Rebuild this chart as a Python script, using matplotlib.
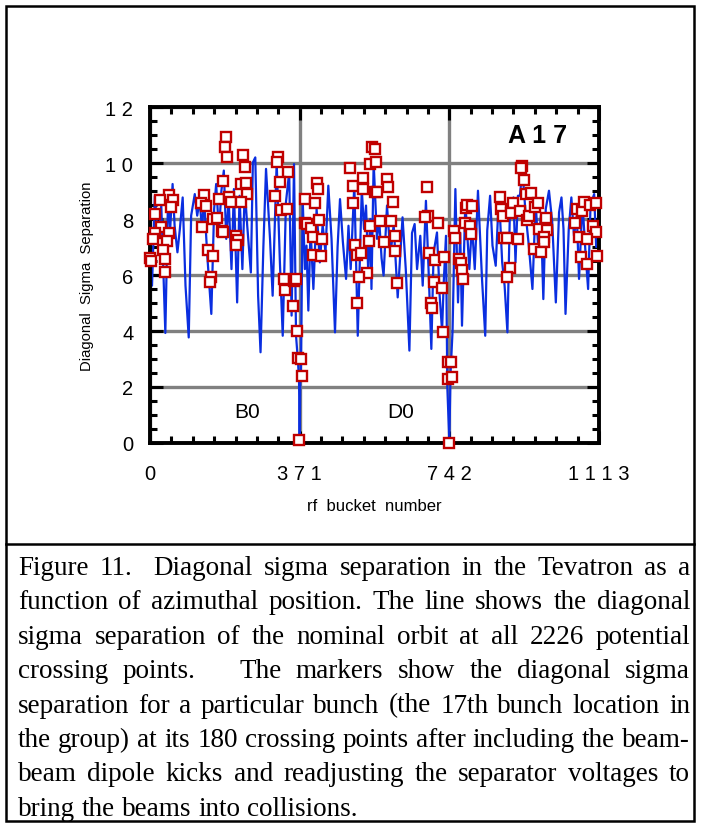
import matplotlib
matplotlib.use("Agg")
import matplotlib.pyplot as plt
from matplotlib.ticker import MultipleLocator, FixedLocator
from matplotlib.patches import Rectangle
from matplotlib.lines import Line2D

plt.rcParams["font.family"] = ["Liberation Sans", "DejaVu Sans"]

# nominal orbit: rf bucket vs diagonal sigma separation
orbit_bucket = [
    0, 5, 12, 20, 28, 38, 45, 50, 56, 61, 68, 74, 81, 88, 96, 102, 111, 117,
    123, 129, 134, 142, 152, 159, 164, 171, 177, 183, 189, 195, 202, 208, 216,
    222, 229, 235, 241, 250, 255, 261, 268, 274, 281, 287.6, 297.5, 304, 314,
    322, 329, 337, 345, 351, 357, 362, 367, 369.5, 371, 372.5, 374, 378.5, 384,
    388, 392.5, 398, 405, 413, 421, 428, 435, 442, 450, 458.6, 465, 471, 478,
    486, 492, 497.5, 506.5, 515, 525, 530.5, 535.5, 541, 546, 549, 554.4,
    562.7, 568, 574, 579, 587.5, 596, 604, 614, 626, 634, 643, 649.5, 656, 662,
    670, 676, 684, 691, 697.4, 703, 711.4, 718, 724, 728, 733.7, 737, 742, 745,
    750, 757, 763.5, 769, 773.4, 781.7, 791.6, 798, 805, 813, 823, 831, 836,
    843, 849, 857, 865, 873, 879, 886, 892, 901, 906, 912, 917, 923, 931, 939,
    948, 956, 962, 969, 975, 981, 989, 997, 1006, 1014, 1020, 1025, 1030, 1038,
    1044.5, 1051, 1058, 1063.5, 1072, 1080, 1086, 1092, 1101, 1106, 1113,
]
orbit_sep = [
    6.6, 5.62, 8.83, 7.29, 8.48, 3.93, 8.95, 7.64, 9.25, 7.76, 6.81, 7.64, 8.77,
    5.62, 3.77, 8.12, 8.89, 8.12, 8.65, 7.64, 8.71, 6.69, 4.61, 8.36, 9.25,
    7.52, 9.01, 9.73, 7.29, 8.71, 6.21, 9.07, 5.02, 8.83, 6.21, 9.07, 7.76,
    6.09, 10.02, 10.2, 5.26, 3.24, 7.0, 9.79, 7.29, 5.26, 10.02, 6.45, 3.83,
    8.6, 9.67, 4.55, 9.96, 3.83, 2.88, 2.17, 0.1, 2.2, 2.4, 8.71, 6.21, 7.05,
    4.73, 7.64, 5.5, 8.36, 6.45, 7.8, 6.8, 9.19, 7.29, 3.95, 7.0, 8.71, 7.2,
    5.86, 7.76, 6.21, 9.25, 3.83, 9.07, 7.64, 8.48, 6.09, 8.0, 5.5, 10.02,
    7.29, 8.0, 6.6, 5.98, 8.48, 6.7, 7.8, 5.2, 8.06, 6.21, 3.3, 7.5, 7.82,
    6.21, 7.4, 5.62, 8.65, 6.0, 3.36, 6.8, 7.52, 5.26, 4.0, 5.7, 7.4, 2.0,
    0.05, 2.5, 4.0, 9.07, 5.02, 7.5, 4.19, 8.6, 6.21, 7.8, 6.21, 9.01, 5.86,
    3.83, 7.6, 8.83, 7.05, 6.33, 8.89, 6.45, 5.62, 3.95, 8.2, 8.77, 6.45, 8.83,
    8.83, 9.79, 8.2, 7.05, 5.5, 8.6, 7.05, 8.12, 5.14, 8.36, 9.01, 7.9, 5.02,
    8.24, 8.77, 7.64, 4.61, 7.64, 8.77, 7.4, 8.12, 5.86, 8.6, 6.69, 5.5, 8.5,
    8.89, 7.0, 8.3,
]

# bunch 17 crossing points
bunch_bucket = [
    189, 185, 192, 231, 235, 181, 226, 239, 241, 46, 26, 57, 53, 133, 127, 140,
    172, 195, 200, 225, 12, 28, 13, 46, 7, 43, 156, 166, 130, 178, 182, 212,
    218, 214, 32, 145, 155, 36, 1, 3, 38, 150, 148,
    318, 316, 343, 322, 310, 324, 339, 331, 335, 357, 361, 354, 364, 366, 374,
    377, 370, 383, 383, 390, 398, 403, 415, 417, 410, 420, 427, 405, 423, 496,
    502, 529, 527, 504, 545, 549.5, 558, 545, 544, 508, 512, 522, 539, 518, 514,
    558.6, 560, 562.7, 587.5, 590, 601.5, 686.6, 571, 598, 581, 606.5, 608, 612,
    689, 681, 714, 692, 707, 730, 704, 724, 697, 699, 726, 739, 746, 738, 748.6,
    742, 752.7, 757, 767, 772, 773, 776, 783, 786, 798, 782, 792, 796,
    923, 919, 927, 931, 944, 868, 869, 875, 901, 896, 917, 935, 940, 954, 962,
    981, 964, 983, 977, 977, 878, 884, 911, 952, 970, 892.5, 886, 1053, 1058,
    1072, 1076, 1091, 1105, 1097, 1105, 1063.5, 1082.5, 1068, 1084, 1109,
]
bunch_sep = [
    10.92, 10.56, 10.2, 10.29, 9.84, 9.34, 9.25, 9.29, 8.89, 8.87, 8.68, 8.68,
    8.42, 8.87, 8.57, 8.45, 8.71, 8.77, 8.62, 8.62, 8.18, 7.70, 7.49, 7.49,
    7.29, 7.20, 8.0, 8.02, 7.70, 7.58, 7.52, 7.38, 7.26, 7.07, 6.90, 6.90, 6.67,
    6.57, 6.6, 6.5, 6.12, 5.92, 5.74,
    10.2, 10.02, 9.67, 9.31, 8.83, 8.33, 8.36, 5.86, 5.48, 5.8, 5.86, 4.9, 3.99,
    3.02, 3.0, 2.40, 0.12, 8.71, 7.85, 7.82, 7.68, 7.35, 9.28, 9.07, 8.57, 7.96,
    7.29, 6.71, 6.69, 9.81, 9.17, 9.45, 9.07, 8.56, 9.96, 10.56, 8.95, 7.74,
    7.2, 7.07, 6.71, 6.77, 6.07, 5.92, 5.0,
    10.5, 10.02, 8.98, 9.43, 9.13, 8.62, 9.13, 7.94, 7.92, 7.19, 7.40, 6.85,
    5.71, 8.1, 8.06, 7.85, 6.78, 6.53, 6.63, 5.74, 5.52, 5.0, 4.82, 3.98, 2.88,
    2.88, 2.29, 2.35, 0.0, 7.58, 7.31, 6.57, 6.42, 6.19, 5.86, 8.39, 8.5, 8.45,
    7.85, 7.76, 7.46,
    9.9, 9.81, 9.4, 8.89, 8.93, 8.77, 8.36, 8.12, 8.57, 8.2, 8.3, 7.98, 8.12,
    8.42, 8.57, 8.02, 7.64, 7.62, 7.35, 7.17, 7.32, 7.31, 7.29, 6.93, 6.81,
    6.24, 5.92, 7.86, 8.36, 8.3, 8.62, 8.5, 8.57, 7.76, 7.52, 7.35, 7.29, 6.63,
    6.39, 6.67,
]

x_ticks = [0, 371, 742, 1113]
x_tick_labels = ["0", "3 7 1", "7 4 2", "1 1 1 3"]
y_ticks = [0, 2, 4, 6, 8, 10, 12]
y_tick_labels = ["0", "2", "4", "6", "8", "1 0", "1 2"]

caption_lines = [
    "Figure 11.  Diagonal sigma separation in the Tevatron as a",
    "function of azimuthal position. The line shows the diagonal",
    "sigma separation of the nominal orbit at all 2226 potential",
    "crossing points.   The markers show the diagonal sigma",
    "separation for a particular bunch (the 17th bunch location in",
    "the group) at its 180 crossing points after including the beam-",
    "beam dipole kicks and readjusting the separator voltages to",
    "bring the beams into collisions.",
]

W, H = 702, 829
fig = plt.figure(figsize=(W / 100, H / 100), dpi=100)
ax = fig.add_axes([150 / W, 1 - 444 / H, 449 / W, 336 / H])

ax.plot(orbit_bucket, orbit_sep, color="#0a2ee0", lw=1.6, zorder=2)
ax.plot(bunch_bucket, bunch_sep, ls="none", marker="s", ms=7, mfc="white",
        mec="#c00000", mew=1.7, zorder=3, clip_on=False)

ax.set_xlim(0, 1113)
ax.set_ylim(0, 12)
ax.xaxis.set_major_locator(FixedLocator(x_ticks))
ax.set_xticklabels(x_tick_labels)
ax.yaxis.set_major_locator(FixedLocator(y_ticks))
ax.set_yticklabels(y_tick_labels)
ax.xaxis.set_minor_locator(MultipleLocator(53))
ax.yaxis.set_minor_locator(MultipleLocator(0.5))
ax.tick_params(which="both", direction="in", top=True, right=True,
               colors="black", labelsize=14.5)
ax.tick_params(which="major", length=9, width=2.2)
ax.tick_params(which="minor", length=5, width=2.2)
ax.tick_params(axis="x", pad=15)
ax.tick_params(axis="y", pad=12)
for s in ax.spines.values():
    s.set_linewidth(2.8)
ax.grid(True, which="major", color="#808080", lw=2.4)
ax.set_axisbelow(True)

ax.set_ylabel("Diagonal  Sigma  Separation", fontsize=10.7, labelpad=8)
ax.set_xlabel("rf  bucket  number", fontsize=12, labelpad=11)

ax.text(0.929, 0.917, "A 1 7", transform=ax.transAxes, ha="right",
        va="center", fontsize=18, fontweight="bold")
ax.text(240, 1.14, "B0", ha="center", va="center", fontsize=15)
ax.text(622, 1.14, "D0", ha="center", va="center", fontsize=15)

# outer frame and caption box
fig.add_artist(Rectangle((6 / W, 1 - 822 / H), 688 / W, 815 / H,
                         transform=fig.transFigure, fill=False, lw=1.8,
                         color="black"))
fig.add_artist(Line2D([6 / W, 694 / W], [1 - 545 / H, 1 - 545 / H],
                      transform=fig.transFigure, lw=1.8, color="black"))

# justified caption
renderer = fig.canvas.get_renderer()
cap_font = dict(fontsize=19.5, family="Liberation Serif", va="baseline")
left, right = 18, 690
sp = fig.text(0, 0, "a a", **cap_font)
sp2 = fig.text(0, 0, "aa", **cap_font)
space_w = sp.get_window_extent(renderer).width - sp2.get_window_extent(renderer).width
sp.remove()
sp2.remove()
for i, line in enumerate(caption_lines):
    y = 1 - (575 + 34.4 * i) / H
    tokens, weights = [], []
    for w in line.split(" "):
        if w == "":
            if weights:
                weights[-1] += 1
            continue
        tokens.append(w)
        weights.append(1)
    weights = weights[:-1] + [0]
    texts = [fig.text(0, y, t, **cap_font) for t in tokens]
    widths = [t.get_window_extent(renderer).width for t in texts]
    if i < len(caption_lines) - 1:
        gap = (right - left - sum(widths)) / max(sum(weights), 1)
    else:
        gap = space_w
    x = left
    for t, wd, wt in zip(texts, widths, weights):
        t.set_x(x / W)
        x += wd + wt * gap

fig.savefig("out.png", dpi=100)
